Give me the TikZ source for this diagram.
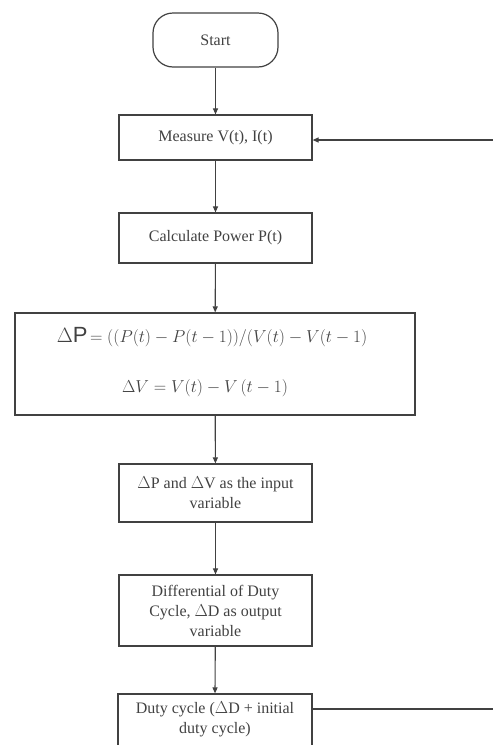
\documentclass[tikz,border=0pt]{standalone}
\usepackage{fontspec}
\setmainfont{Liberation Serif}
\newfontfamily\dpsans{Liberation Sans}
\usetikzlibrary{arrows.meta}
\definecolor{ink}{RGB}{65,65,65}
\begin{document}
\begin{tikzpicture}[x=1pt,y=-1pt,
  flowbox/.style={draw=ink,line width=1.2pt,inner sep=0pt,align=center,text=ink,
    font=\fontsize{16}{20}\selectfont},
  flowarrow/.style={draw=ink,line width=1.1pt,-{Triangle[length=6pt,width=5pt]}},
  flowline/.style={draw=ink,line width=1.1pt}]
\useasboundingbox (0,0) rectangle (493,745);
\clip (0,0) rectangle (493,745);
\node[flowbox,rounded corners=20pt,minimum width=125pt,minimum height=54pt] (start) at (215.5,40) {Start};
\node[flowbox,minimum width=193pt,minimum height=45pt] (meas) at (215.5,137.5) {Measure V(t), I(t)};
\node[flowbox,minimum width=193pt,minimum height=50pt] (calc) at (215.5,238) {Calculate Power P(t)};
\node[flowbox,minimum width=400pt,minimum height=102pt] (dp) at (215,364) {};
\node[text=ink,anchor=center] (dpl1) at (212,337) {{\dpsans\fontsize{22}{24}\selectfont $\Delta$P} {\fontsize{16.5}{20}\selectfont$=((P(t)-P(t-1))/(V(t)-V(t-1)$}};
\node[text=ink,anchor=center] (dpl2) at (205,388) {\fontsize{16.5}{20}\selectfont$\Delta V=V(t)-V\,(t-1)$};
\node[flowbox,minimum width=193pt,minimum height=58pt] (inp) at (215.5,493) {$\Delta$P and $\Delta$V as the input\\variable};
\node[flowbox,minimum width=193pt,minimum height=71pt] (diff) at (215.5,610.5) {Differential of Duty\\Cycle, $\Delta$D as output\\variable};
\node[flowbox,minimum width=194pt,minimum height=70pt] (duty) at (215,729) {};
\node[text=ink,align=center,font=\fontsize{16}{20}\selectfont] (dutyt) at (215,719) {Duty cycle ($\Delta$D + initial\\duty cycle)};
\coordinate (rtop) at (493,140);
\coordinate (rbot) at (493,709);
\draw[flowarrow] (start) -- (meas);
\draw[flowarrow] (meas) -- (calc);
\draw[flowarrow] (calc) -- (dp);
\draw[flowarrow] (dp) -- (inp);
\draw[flowarrow] (inp) -- (diff);
\draw[flowarrow] (diff) -- (duty.north);
\draw[flowline] (duty.east |- rbot) -- (rbot);
\draw[flowarrow] (rtop) -- (meas.east |- rtop);
\end{tikzpicture}
\end{document}
